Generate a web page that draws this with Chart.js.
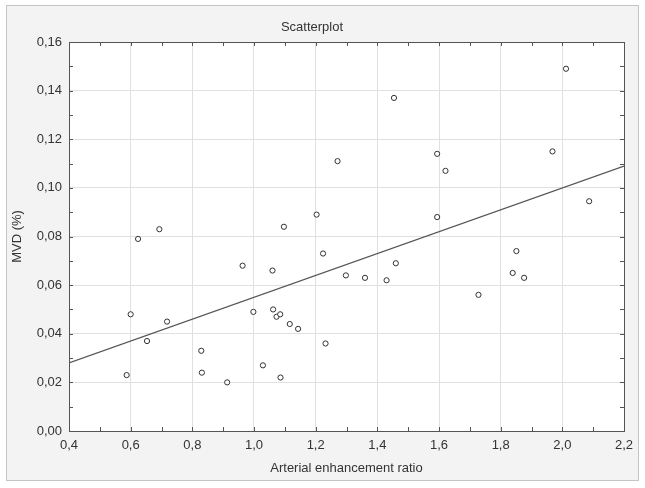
<!DOCTYPE html>
<html>
<head>
<meta charset="utf-8">
<title>Scatterplot</title>
<script src="https://cdn.jsdelivr.net/npm/chart.js@4.4.0/dist/chart.umd.min.js"></script>
<style>
  html, body { margin: 0; padding: 0; background: #ffffff; }
  #wrap { width: 645px; height: 488px; position: relative; }
</style>
</head>
<body>
<div id="wrap"><canvas id="scatterChart"></canvas></div>
<script>
// Arterial enhancement ratio (x) and MVD % (y)
const ratioValues = [
  0.587, 0.600, 0.624, 0.653, 0.693, 0.718, 0.829, 0.831, 0.913, 0.963,
  0.998, 1.029, 1.060, 1.062, 1.073, 1.085, 1.086, 1.097, 1.116, 1.143,
  1.203, 1.224, 1.232, 1.271, 1.298, 1.360, 1.430, 1.454, 1.460, 1.594,
  1.594, 1.621, 1.728, 1.839, 1.851, 1.876, 1.968, 2.012, 2.087
];
const mvdValues = [
  0.023, 0.048, 0.079, 0.037, 0.083, 0.045, 0.033, 0.024, 0.020, 0.068,
  0.049, 0.027, 0.066, 0.050, 0.047, 0.048, 0.022, 0.084, 0.044, 0.042,
  0.089, 0.073, 0.036, 0.111, 0.064, 0.063, 0.062, 0.137, 0.069, 0.114,
  0.088, 0.107, 0.056, 0.065, 0.074, 0.063, 0.115, 0.149, 0.0945
];

// Regression line end points
const fitX = [0.4, 2.2];
const fitY = [0.028, 0.109];

// Axis ranges
const xRange = [0.4, 2.2];
const yRange = [0, 0.16];

const TEXT_COLOR = '#333333';
const FRAME_COLOR = '#555555';
const FONT = { family: '"Liberation Sans", Arial, sans-serif', size: 13 };

/**
 * Grey panel behind everything, white plot area, box and inward ticks
 */
const statisticaFrame = {
  id: 'statisticaFrame',
  beforeDraw(chart) {
    const { ctx, chartArea: a } = chart;
    ctx.save();
    ctx.fillStyle = '#f3f3f3';
    ctx.fillRect(6, 5, 633, 476);
    ctx.strokeStyle = '#c4c4c4';
    ctx.lineWidth = 1;
    ctx.strokeRect(6.5, 5.5, 632, 475);
    ctx.fillStyle = '#ffffff';
    ctx.fillRect(a.left, a.top, a.right - a.left, a.bottom - a.top);
    ctx.restore();
  },
  afterDraw(chart) {
    const { ctx, chartArea: a, scales } = chart;
    const len = 4;
    ctx.save();
    ctx.strokeStyle = FRAME_COLOR;
    ctx.lineWidth = 1;

    // tick marks at every major tick and half way between them
    const marks = (scale) => {
      const vals = scale.ticks.map(t => t.value);
      const out = [];
      vals.forEach((v, i) => {
        out.push(scale.getPixelForValue(v));
        if (i < vals.length - 1) out.push(scale.getPixelForValue((v + vals[i + 1]) / 2));
      });
      return out;
    };

    ctx.beginPath();
    marks(scales.x).forEach(px => {
      const p = Math.round(px) + 0.5;
      ctx.moveTo(p, a.bottom); ctx.lineTo(p, a.bottom - len);
      ctx.moveTo(p, a.top); ctx.lineTo(p, a.top + len);
    });
    marks(scales.y).forEach(py => {
      const p = Math.round(py) + 0.5;
      ctx.moveTo(a.left, p); ctx.lineTo(a.left + len, p);
      ctx.moveTo(a.right, p); ctx.lineTo(a.right - len, p);
    });
    ctx.stroke();

    ctx.strokeRect(Math.round(a.left) + 0.5, Math.round(a.top) + 0.5,
      Math.round(a.right - a.left), Math.round(a.bottom - a.top));
    ctx.restore();
  }
};

const points = ratioValues.map((x, i) => ({ x: x, y: mvdValues[i] }));
const fitLine = fitX.map((x, i) => ({ x: x, y: fitY[i] }));

const ctx = document.getElementById('scatterChart').getContext('2d');
const scatterChart = new Chart(ctx, {
  type: 'scatter',
  data: {
    datasets: [{
      label: 'MVD',
      data: points,
      pointStyle: 'circle',
      pointRadius: 2.6,
      pointBorderWidth: 1,
      pointBorderColor: '#333333',
      pointBackgroundColor: '#ffffff',
      order: 1
    }, {
      type: 'line',
      label: 'Fit',
      data: fitLine,
      borderColor: '#555555',
      borderWidth: 1.2,
      pointRadius: 0,
      fill: false,
      tension: 0,
      order: 2
    }]
  },
  options: {
    responsive: true,
    maintainAspectRatio: false,
    animation: false,
    layout: {
      padding: { top: 0, left: 0, right: 21, bottom: 0 }
    },
    scales: {
      x: {
        type: 'linear',
        min: xRange[0],
        max: xRange[1],
        afterFit(scale) { scale.height = 57; },
        border: { display: false },
        grid: {
          color: '#e0e0e0',
          drawTicks: false
        },
        ticks: {
          stepSize: 0.2,
          padding: 7,
          color: TEXT_COLOR,
          font: FONT,
          autoSkip: false,
          maxRotation: 0,
          callback: function(value) {
            return value.toFixed(1).replace('.', ',');
          }
        },
        title: {
          display: true,
          text: 'Arterial enhancement ratio',
          color: TEXT_COLOR,
          font: FONT,
          padding: { top: 0, bottom: 12 }
        }
      },
      y: {
        type: 'linear',
        min: yRange[0],
        max: yRange[1],
        afterFit(scale) { scale.width = 69; },
        border: { display: false },
        grid: {
          color: '#e0e0e0',
          drawTicks: false
        },
        ticks: {
          stepSize: 0.02,
          padding: 7,
          color: TEXT_COLOR,
          font: FONT,
          autoSkip: false,
          callback: function(value) {
            return value.toFixed(2).replace('.', ',');
          }
        },
        title: {
          display: true,
          text: 'MVD (%)',
          color: TEXT_COLOR,
          font: FONT,
          padding: { top: 10, bottom: 0 }
        }
      }
    },
    plugins: {
      legend: { display: false },
      tooltip: { enabled: false },
      title: {
        display: true,
        text: 'Scatterplot',
        color: TEXT_COLOR,
        font: { family: FONT.family, size: 13, weight: 'normal', lineHeight: 1.2 },
        padding: { top: 20, bottom: 6.4 }
      }
    }
  },
  plugins: [statisticaFrame]
});
</script>
</body>
</html>
